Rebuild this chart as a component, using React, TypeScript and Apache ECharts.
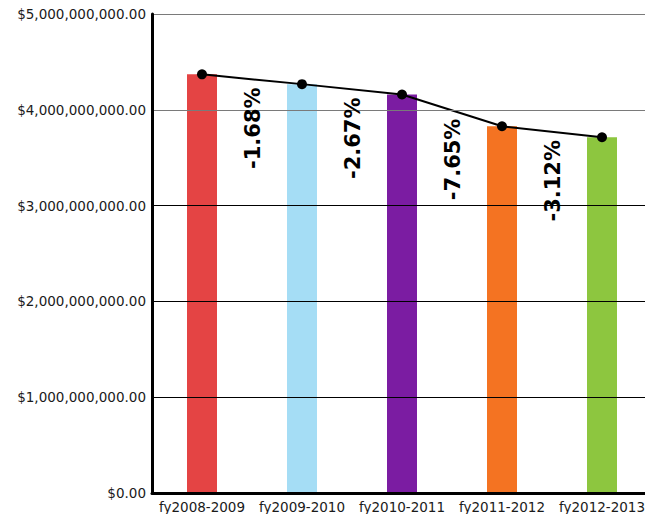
import React, { useEffect, useRef } from "react";
import * as echarts from "echarts";

const categories = ["fy2008-2009", "fy2009-2010", "fy2010-2011", "fy2011-2012", "fy2012-2013"];
const budgetValues = [4370000000, 4268000000, 4160000000, 3828000000, 3713000000];
const barColors = ["#E44444", "#A5DDF5", "#7B1CA2", "#F47322", "#8DC63F"];
const changeLabels = ["-1.68%", "-2.67%", "-7.65%", "-3.12%"];
const yTicks = { min: 0, max: 5000000000, interval: 1000000000 };
const gridLineColors = ["#000", "#000", "#000", "#000", "#7a7a7a", "#7a7a7a"];

const fmtMoney = (v: number) =>
  "$" + v.toLocaleString("en-US", { minimumFractionDigits: 2, maximumFractionDigits: 2 });

export default function App() {
  const ref = useRef<HTMLDivElement>(null);
  useEffect(() => {
    if (!ref.current) return;
    const chart = echarts.init(ref.current, null, { renderer: "svg" });
    chart.setOption({
      animation: false,
      backgroundColor: "#fff",
      grid: { left: 152, top: 14, width: 500, height: 479, containLabel: false },
      xAxis: {
        type: "category",
        data: categories,
        axisLine: { show: true, lineStyle: { color: "#000", width: 3 } },
        axisTick: { show: false },
        axisLabel: { color: "#1a1a1a", fontSize: 13.5, fontFamily: "DejaVu Sans", margin: 7, interval: 0 },
        z: 10,
      },
      yAxis: {
        type: "value",
        min: yTicks.min,
        max: yTicks.max,
        interval: yTicks.interval,
        axisLine: { show: true, lineStyle: { color: "#000", width: 3 } },
        axisTick: { show: false },
        axisLabel: {
          color: "#1a1a1a",
          fontSize: 13.5,
          fontFamily: "DejaVu Sans",
          margin: 6,
          formatter: (v: number) => fmtMoney(v),
        },
        splitLine: { show: true, lineStyle: { color: gridLineColors, width: 1 } },
        z: 10,
      },
      series: [
        {
          type: "bar",
          data: budgetValues.map((v, i) => ({ value: v, itemStyle: { color: barColors[i] } })),
          barWidth: 30,
          z: 2,
        },
        {
          type: "line",
          data: budgetValues,
          lineStyle: { color: "#000", width: 2 },
          itemStyle: { color: "#000" },
          symbol: "circle",
          symbolSize: 10,
          z: 5,
        },
      ],
    });
    const graphics = changeLabels.map((t, i) => {
      const p1 = chart.convertToPixel({ seriesIndex: 1 }, [i, budgetValues[i]]) as number[];
      const p2 = chart.convertToPixel({ seriesIndex: 1 }, [i + 1, budgetValues[i + 1]]) as number[];
      return {
        type: "text",
        x: (p1[0] + p2[0]) / 2 + 1,
        y: (p1[1] + p2[1]) / 2 + 49,
        rotation: Math.PI / 2,
        z: 20,
        style: {
          text: t,
          fill: "#000",
          font: "bold 21px 'DejaVu Sans'",
          align: "center",
          verticalAlign: "middle",
        },
      };
    });
    chart.setOption({ graphic: graphics });
    return () => chart.dispose();
  }, []);
  return (
    <div style={{ position: "absolute", left: 0, top: 0, width: 645, height: 514, overflow: "hidden" }}>
      <div ref={ref} style={{ width: 670, height: 514 }} />
    </div>
  );
}
